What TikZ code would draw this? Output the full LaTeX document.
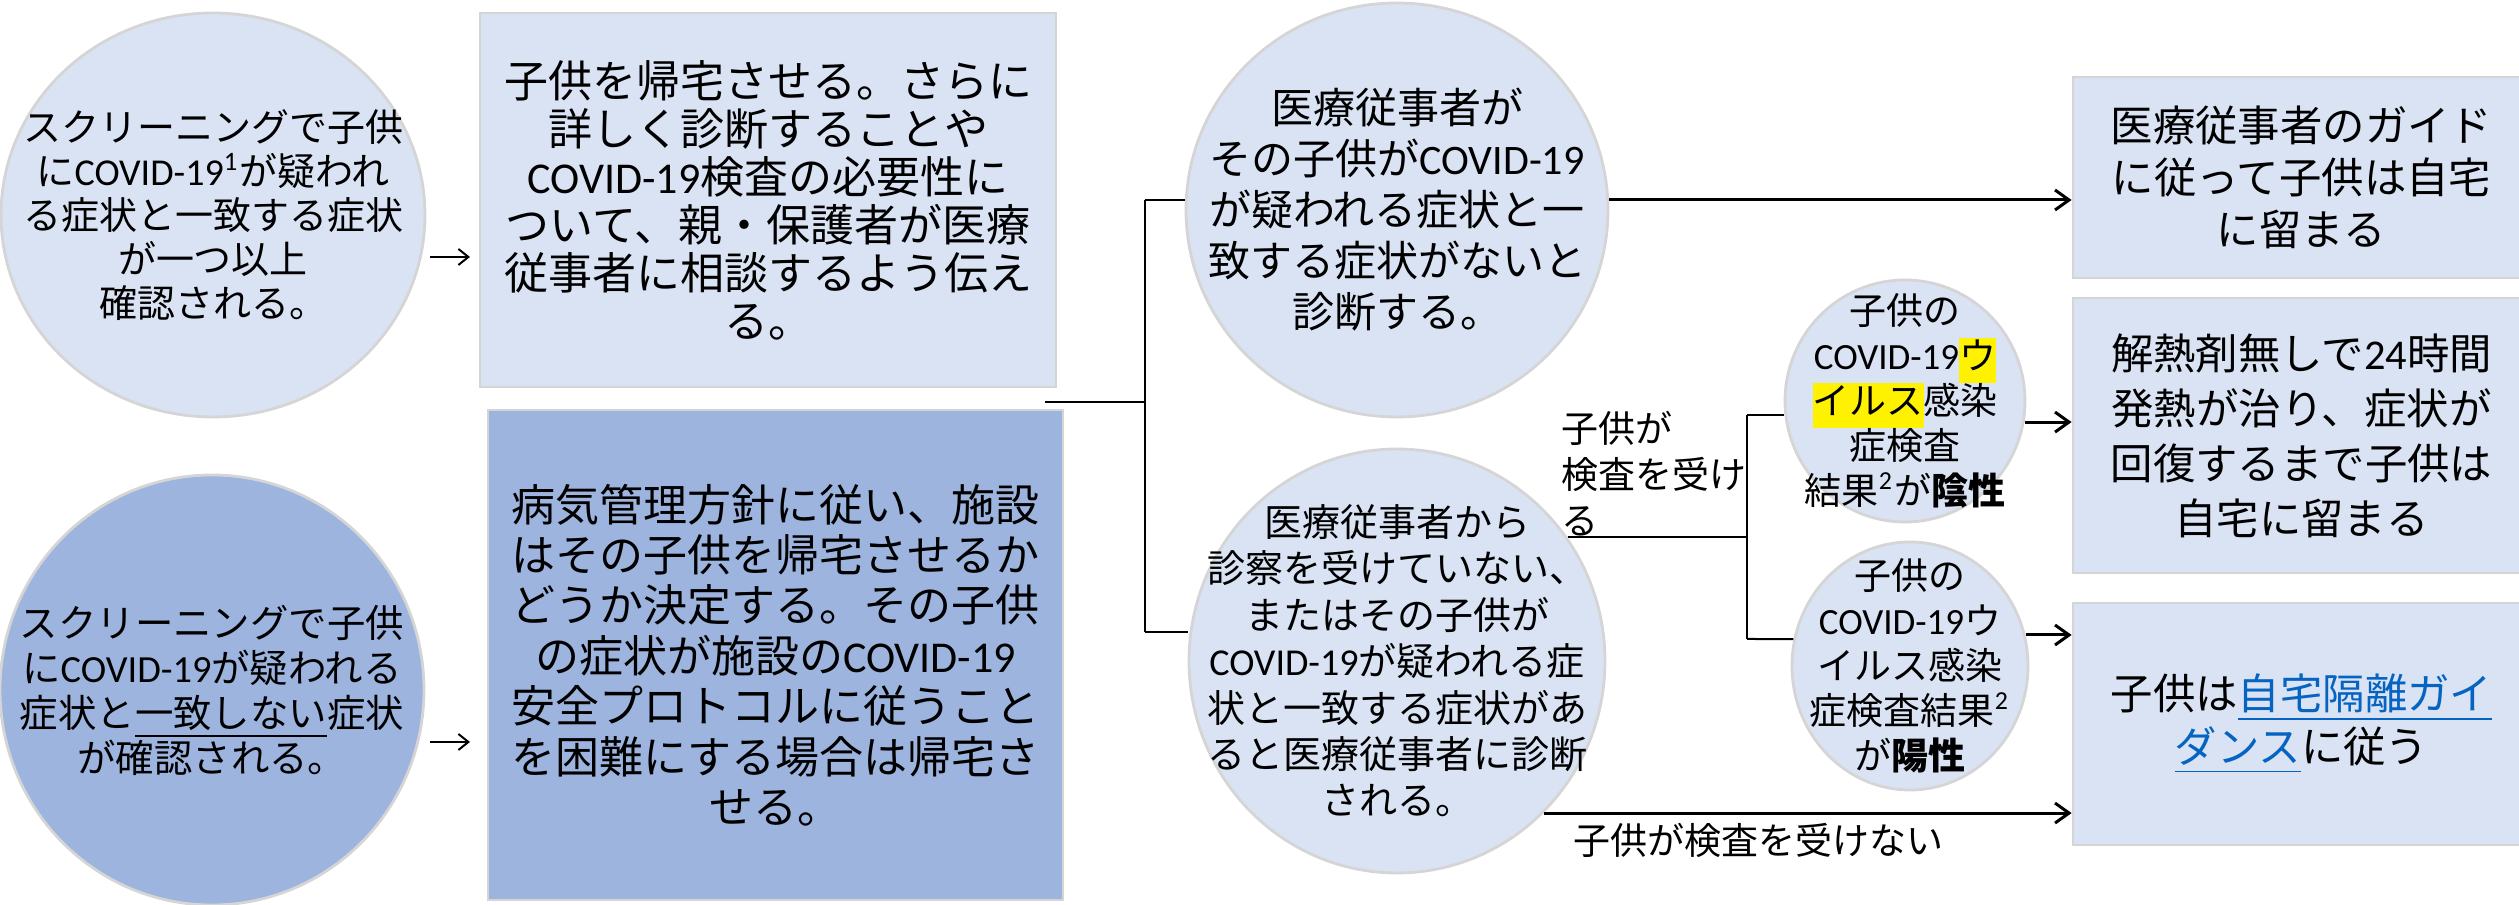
\documentclass[tikz,border=0pt]{standalone}
\usepackage{fontspec}
\setmainfont{Noto Sans CJK JP}
\newfontfamily\lat{Carlito}
\usetikzlibrary{shapes.geometric,arrows.meta}
\definecolor{lightfill}{HTML}{DAE3F3}
\definecolor{darkfill}{HTML}{9DB4DF}
\definecolor{edgegray}{HTML}{D5D5D5}
\definecolor{linkblue}{HTML}{0563C1}
\newcommand\cv{{\lat COVID-19}}
\newcommand\hlt[1]{{\setlength{\fboxsep}{0pt}\colorbox{yellow}{\strut #1}}}
\newcommand\fs[2]{\fontsize{#1pt}{#2pt}\selectfont}
\begin{document}
\begin{tikzpicture}[x=0.25pt,y=-0.25pt,
  shapeborder/.style={draw=edgegray,line width=0.7pt},
  oval/.style={ellipse,shapeborder,fill=lightfill,inner sep=0pt},
  darkoval/.style={oval,fill=darkfill},
  panel/.style={rectangle,shapeborder,fill=lightfill,inner sep=0pt},
  darkpanel/.style={panel,fill=darkfill},
  txt/.style={align=center,inner sep=0pt},
  wire/.style={line width=0.5pt},
  arrowline/.style={line width=0.75pt,-{Straight Barb[length=3.5pt,width=5pt]}},
  textarrow/.style={line width=0.5pt,-{Straight Barb[length=2.5pt,width=4pt]}},
]
\useasboundingbox (0,0) rectangle (2519,905);

% shapes
\node[oval,minimum width=106pt,minimum height=101pt] (E1) at (213,215) {};
\node[darkoval,minimum width=106pt,minimum height=107.5pt] (E2) at (212,690) {};
\node[panel,minimum width=144pt,minimum height=93.5pt] (B1) at (768,200) {};
\node[darkpanel,minimum width=143.75pt,minimum height=122.5pt] (B2) at (775.5,655) {};
\node[oval,minimum width=105.5pt,minimum height=103.5pt] (E3) at (1397,210) {};
\node[oval,minimum width=104pt,minimum height=106pt] (E4) at (1397,661) {};
\node[oval,minimum width=60pt,minimum height=60.5pt] (E5) at (1905,401) {};
\node[oval,minimum width=59pt,minimum height=62pt] (E6) at (1910,666) {};
\node[panel,minimum width=114.25pt,minimum height=50.25pt] (R1) at (2301.5,177.5) {};
\node[panel,minimum width=114.25pt,minimum height=68.75pt] (R2) at (2301.5,435.5) {};
\node[panel,minimum width=114.25pt,minimum height=60.5pt] (R3) at (2301.5,724) {};

% texts
\node[txt,font=\fs{9.5}{11}] (T1) at (E1.center) {スクリーニングで子供\\に{\lat COVID-19\textsuperscript{1}}が疑われ\\る症状と一致する症状\\が一つ以上\\確認される。};
\node[txt,font=\fs{9.6}{11.25}] (T2) at (E2.center) {スクリーニングで子供\\に\cv が疑われる\\症状と\underline{一致しない}症状\\が確認される。};
\node[txt,font=\fs{11}{12}] (T3) at (B1.center) {子供を帰宅させる。さらに\\詳しく診断することや\\\cv 検査の必要性に\\ついて、親・保護者が医療\\従事者に相談するよう伝え\\る。};
\node[txt,font=\fs{11}{12.6}] (T4) at (B2.center) {病気管理方針に従い、施設\\はその子供を帰宅させるか\\どうか決定する。その子供\\の症状が施設の\cv\\安全プロトコルに従うこと\\を困難にする場合は帰宅さ\\せる。};
\node[txt,font=\fs{10.5}{12.75}] (T5) at (E3.center) {医療従事者が\\その子供が\cv\\が疑われる症状と一\\致する症状がないと\\診断する。};
\node[txt,font=\fs{9.5}{11.6}] (T6) at (E4.center) {医療従事者から\\診察を受けていない、\\またはその子供が\\\cv が疑われる症\\状と一致する症状があ\\ると医療従事者に診断\\される。};
\node[txt,font=\fs{9.25}{11.25}] (T7) at (E5.center) {子供の\\\cv\hlt{ウ}\\\hlt{イルス}感染\\症検査\\結果{\lat\textsuperscript{2}}が\textbf{陰性}};
\node[txt,font=\fs{9.25}{11.25}] (T8) at (E6.center) {子供の\\\cv ウ\\イルス感染\\症検査結果{\lat\textsuperscript{2}}\\が\textbf{陽性}};
\node[txt,font=\fs{10.6}{13}] (T9) at (R1.center) {医療従事者のガイド\\に従って子供は自宅\\に留まる};
\node[txt,font=\fs{10.6}{13.75}] (T10) at (R2.center) {解熱剤無しで{\lat 24}時間\\発熱が治り、症状が\\回復するまで子供は\\自宅に留まる};
\node[txt,font=\fs{10.6}{13.25}] (T11) at (R3.center) {子供は{\color{linkblue}\underline{自宅隔離ガイ}}\\{\color{linkblue}\underline{ダンス}}に従う};
\node[txt,align=left,anchor=west,font=\fs{9.25}{11.5}] (L1) at (1561,474) {子供が\\検査を受け\\る};
\node[txt,font=\fs{9.25}{11.5}] (L2) at (1758,840) {子供が検査を受けない};

% text arrows between left shapes and boxes
\coordinate (a1s) at (430,257);
\coordinate (a1e) at (470,257);
\coordinate (a2s) at (430,742);
\coordinate (a2e) at (470,742);
\draw[textarrow] (a1s) -- (a1e);
\draw[textarrow] (a2s) -- (a2e);

% bracket from left boxes
\coordinate (j0) at (1045,402);
\coordinate (j1) at (1145,402);
\coordinate (jt) at (1145,200);
\coordinate (jb) at (1145,632);
\draw[wire] (j0) -- (j1);
\draw[wire] (jt) -- (jb);
\draw[wire] (jt) -- (E3.west |- jt);
\draw[wire] (jb) -- (E4.west |- jb);

% E3 -> R1
\draw[arrowline] (E3.east |- jt) -- (R1.west |- jt);

% E4 branch
\coordinate (kt) at (1747,415);
\coordinate (kb) at (1747,639);
\draw[wire] (E4.36) -- (E4.36 -| kt);
\draw[wire] (kt) -- (kb);
\draw[wire] (kt) -- (E5.west |- kt);
\draw[wire] (kb) -- (E6.167);

% result arrows
\draw[arrowline] (E5.-10) -- (E5.-10 -| R2.west);
\draw[arrowline] (E6.15) -- (E6.15 -| R3.west);
\draw[arrowline] (E4.-46) -- (E4.-46 -| R3.west);
\end{tikzpicture}
\end{document}
